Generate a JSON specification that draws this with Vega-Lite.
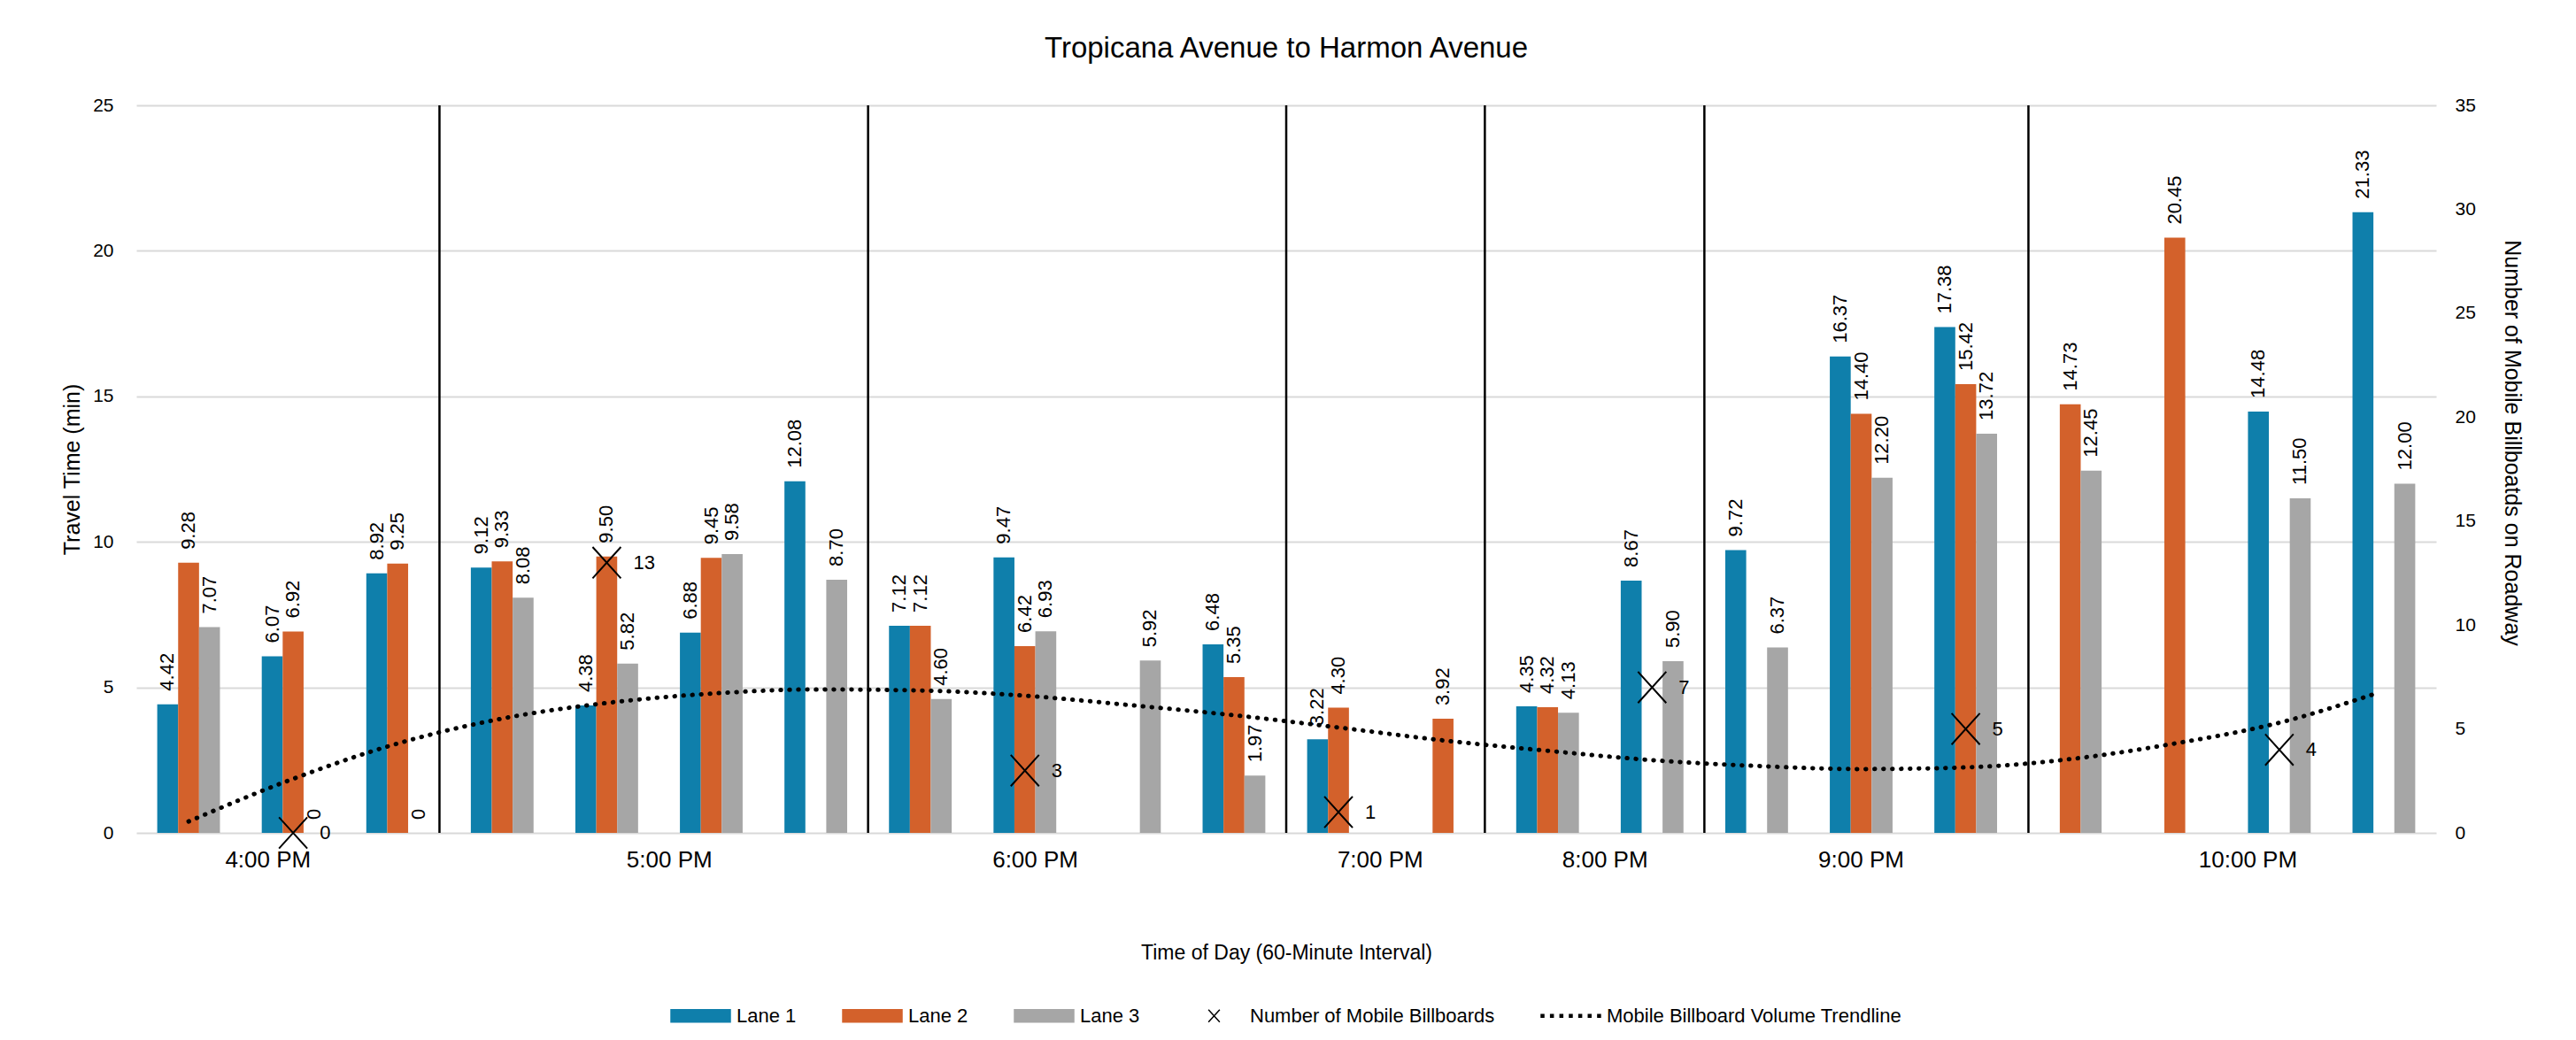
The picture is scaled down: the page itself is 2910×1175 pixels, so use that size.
{
  "$schema": "https://vega.github.io/schema/vega-lite/v6.json",
  "width": 2598,
  "height": 822,
  "autosize": {"type": "none"},
  "padding": {"left": 154, "top": 119, "right": 158, "bottom": 234},
  "background": "white",
  "title": {"text": "Tropicana Avenue to Harmon Avenue", "font": "Liberation Sans", "fontSize": 33, "fontWeight": "normal", "color": "#000000", "anchor": "middle", "frame": "group", "offset": 36},
  "config": {"view": {"stroke": null}, "font": "Liberation Sans", "legend": {"layout": {"bottom": {"anchor": "middle"}}}},
  "datasets": {
    "bars": [
      {"slot": 1, "series": "Lane 1", "time": 4.42}, {"slot": 1, "series": "Lane 2", "time": 9.28}, {"slot": 1, "series": "Lane 3", "time": 7.07},
      {"slot": 2, "series": "Lane 1", "time": 6.07}, {"slot": 2, "series": "Lane 2", "time": 6.92}, {"slot": 2, "series": "Lane 3", "time": 0},
      {"slot": 3, "series": "Lane 1", "time": 8.92}, {"slot": 3, "series": "Lane 2", "time": 9.25}, {"slot": 3, "series": "Lane 3", "time": 0},
      {"slot": 4, "series": "Lane 1", "time": 9.12}, {"slot": 4, "series": "Lane 2", "time": 9.33}, {"slot": 4, "series": "Lane 3", "time": 8.08},
      {"slot": 5, "series": "Lane 1", "time": 4.38}, {"slot": 5, "series": "Lane 2", "time": 9.50}, {"slot": 5, "series": "Lane 3", "time": 5.82},
      {"slot": 6, "series": "Lane 1", "time": 6.88}, {"slot": 6, "series": "Lane 2", "time": 9.45}, {"slot": 6, "series": "Lane 3", "time": 9.58},
      {"slot": 7, "series": "Lane 1", "time": 12.08}, {"slot": 7, "series": "Lane 3", "time": 8.70},
      {"slot": 8, "series": "Lane 1", "time": 7.12}, {"slot": 8, "series": "Lane 2", "time": 7.12}, {"slot": 8, "series": "Lane 3", "time": 4.60},
      {"slot": 9, "series": "Lane 1", "time": 9.47}, {"slot": 9, "series": "Lane 2", "time": 6.42}, {"slot": 9, "series": "Lane 3", "time": 6.93},
      {"slot": 10, "series": "Lane 3", "time": 5.92},
      {"slot": 11, "series": "Lane 1", "time": 6.48}, {"slot": 11, "series": "Lane 2", "time": 5.35}, {"slot": 11, "series": "Lane 3", "time": 1.97},
      {"slot": 12, "series": "Lane 1", "time": 3.22}, {"slot": 12, "series": "Lane 2", "time": 4.30},
      {"slot": 13, "series": "Lane 2", "time": 3.92},
      {"slot": 14, "series": "Lane 1", "time": 4.35}, {"slot": 14, "series": "Lane 2", "time": 4.32}, {"slot": 14, "series": "Lane 3", "time": 4.13},
      {"slot": 15, "series": "Lane 1", "time": 8.67}, {"slot": 15, "series": "Lane 3", "time": 5.90},
      {"slot": 16, "series": "Lane 1", "time": 9.72}, {"slot": 16, "series": "Lane 3", "time": 6.37},
      {"slot": 17, "series": "Lane 1", "time": 16.37}, {"slot": 17, "series": "Lane 2", "time": 14.40}, {"slot": 17, "series": "Lane 3", "time": 12.20},
      {"slot": 18, "series": "Lane 1", "time": 17.38}, {"slot": 18, "series": "Lane 2", "time": 15.42}, {"slot": 18, "series": "Lane 3", "time": 13.72},
      {"slot": 19, "series": "Lane 2", "time": 14.73}, {"slot": 19, "series": "Lane 3", "time": 12.45},
      {"slot": 20, "series": "Lane 2", "time": 20.45},
      {"slot": 21, "series": "Lane 1", "time": 14.48}, {"slot": 21, "series": "Lane 3", "time": 11.50},
      {"slot": 22, "series": "Lane 1", "time": 21.33}, {"slot": 22, "series": "Lane 3", "time": 12.00}
    ],
    "markers": [
      {"slot": 2, "series": "Number of Mobile Billboards", "count": 0},
      {"slot": 5, "series": "Number of Mobile Billboards", "count": 13},
      {"slot": 9, "series": "Number of Mobile Billboards", "count": 3},
      {"slot": 12, "series": "Number of Mobile Billboards", "count": 1},
      {"slot": 15, "series": "Number of Mobile Billboards", "count": 7},
      {"slot": 18, "series": "Number of Mobile Billboards", "count": 5},
      {"slot": 21, "series": "Number of Mobile Billboards", "count": 4}
    ],
    "trend": [
      {"slot": 1, "trend": 0.55}, {"slot": 2, "trend": 2.6}, {"slot": 3, "trend": 4.3}, {"slot": 4, "trend": 5.5},
      {"slot": 5, "trend": 6.25}, {"slot": 6, "trend": 6.7}, {"slot": 7, "trend": 6.9}, {"slot": 8, "trend": 6.85},
      {"slot": 9, "trend": 6.6}, {"slot": 10, "trend": 6.15}, {"slot": 11, "trend": 5.66}, {"slot": 12, "trend": 5.07},
      {"slot": 13, "trend": 4.45}, {"slot": 14, "trend": 3.95}, {"slot": 15, "trend": 3.5}, {"slot": 16, "trend": 3.22},
      {"slot": 17, "trend": 3.07}, {"slot": 18, "trend": 3.15}, {"slot": 19, "trend": 3.55}, {"slot": 20, "trend": 4.3},
      {"slot": 21, "trend": 5.3}, {"slot": 21.95, "trend": 6.75}
    ],
    "hours": [
      {"hour": "4:00 PM", "pos": 1.76}, {"hour": "5:00 PM", "pos": 5.6}, {"hour": "6:00 PM", "pos": 9.1},
      {"hour": "7:00 PM", "pos": 12.4}, {"hour": "8:00 PM", "pos": 14.55}, {"hour": "9:00 PM", "pos": 17.0},
      {"hour": "10:00 PM", "pos": 20.7}
    ],
    "seps": [
      {"boundary": 3.4}, {"boundary": 7.5}, {"boundary": 11.5}, {"boundary": 13.4}, {"boundary": 15.5}, {"boundary": 18.6}
    ]
  },
  "layer": [
    {
      "data": {"name": "bars"},
      "layer": [
        {
          "mark": {"type": "bar"},
          "encoding": {
            "x": {"field": "slot", "type": "ordinal", "scale": {"domain": [1,2,3,4,5,6,7,8,9,10,11,12,13,14,15,16,17,18,19,20,21,22], "paddingInner": 0, "paddingOuter": 0}, "axis": null},
            "xOffset": {"field": "series", "type": "nominal", "scale": {"domain": ["Lane 1", "Lane 2", "Lane 3"], "paddingInner": 0, "paddingOuter": 1.065}},
            "y": {"field": "time", "type": "quantitative", "title": "Travel Time (min)", "scale": {"domain": [0, 25], "nice": false},
              "axis": {"orient": "left", "values": [0, 5, 10, 15, 20, 25], "grid": true, "gridColor": "#d9d9d9", "gridWidth": 2, "domain": false, "ticks": false, "labelPadding": 26, "labelFont": "Liberation Sans", "labelFontSize": 21, "labelColor": "#000000", "titleFont": "Liberation Sans", "titleFontSize": 25, "titleFontWeight": "normal", "titleColor": "#000000", "titleX": -73, "titleBaseline": "middle"}},
            "color": {"field": "series", "type": "nominal",
              "scale": {"domain": ["Lane 1", "Lane 2", "Lane 3", "Number of Mobile Billboards", "Mobile Billboard Volume Trendline"], "range": ["#0f7fab", "#d3612b", "#a6a6a6", "#000000", "#000000"]},
              "legend": {"title": null, "orient": "bottom", "direction": "horizontal", "columns": 5, "offset": 25, "padding": 0, "symbolSize": 4489, "labelOffset": 6, "columnPadding": 49, "labelFont": "Liberation Sans", "labelFontSize": 22, "labelColor": "#000000", "labelLimit": 0,
                "encode": {"symbols": {"update": {"fill": {"scale": "color", "field": "value"}, "stroke": {"scale": "color", "field": "value"}, "strokeWidth": {"value": 1.5}, "opacity": {"value": 1}, "size": {"value": 4489}, "shape": {"scale": "shape", "field": "value"}}}}}}
          }
        },
        {
          "mark": {"type": "text", "angle": 270, "align": "left", "baseline": "middle", "dx": 15, "font": "Liberation Sans", "fontSize": 22, "color": "#000000"},
          "encoding": {
            "x": {"field": "slot", "type": "ordinal"},
            "xOffset": {"field": "series", "type": "nominal"},
            "y": {"field": "time", "type": "quantitative", "title": "Travel Time (min)"},
            "text": {"condition": {"test": "datum.time === 0", "value": "0"}, "field": "time", "type": "quantitative", "format": ".2f"}
          }
        }
      ]
    },
    {
      "data": {"name": "seps"},
      "mark": {"type": "rule", "color": "#000000", "strokeWidth": 2.5},
      "encoding": {
        "x": {"field": "boundary", "type": "quantitative", "scale": {"domain": [0.5, 22.5], "nice": false, "zero": false}, "axis": null}
      }
    },
    {
      "layer": [
        {
          "data": {"name": "trend"},
          "mark": {"type": "line", "color": "#000000", "strokeWidth": 5, "strokeDash": [0.5, 9.5], "strokeCap": "round", "interpolate": "monotone"},
          "encoding": {
            "x": {"field": "slot", "type": "quantitative", "title": "Time of Day (60-Minute Interval)", "scale": {"domain": [0.5, 22.5], "nice": false, "zero": false},
              "axis": {"orient": "bottom", "labels": false, "ticks": false, "domain": false, "grid": false, "titlePadding": 124, "titleFont": "Liberation Sans", "titleFontSize": 23, "titleFontWeight": "normal", "titleColor": "#000000"}},
            "y": {"field": "trend", "type": "quantitative", "title": "Number of Mobile Billboatds on Roadway", "scale": {"domain": [0, 35], "nice": false},
              "axis": {"orient": "right", "values": [0, 5, 10, 15, 20, 25, 30, 35], "grid": false, "domain": false, "ticks": false, "labelPadding": 21, "labelFont": "Liberation Sans", "labelFontSize": 21, "labelColor": "#000000", "titleFont": "Liberation Sans", "titleFontSize": 25, "titleFontWeight": "normal", "titleColor": "#000000", "titleX": 85, "titleY": 381, "titleBaseline": "middle"}}
          }
        },
        {
          "data": {"name": "markers"},
          "mark": {"type": "point", "filled": false, "strokeWidth": 2, "size": 28300, "opacity": 1},
          "encoding": {
            "x": {"field": "slot", "type": "quantitative", "title": "Time of Day (60-Minute Interval)"},
            "y": {"field": "count", "type": "quantitative", "title": "Number of Mobile Billboatds on Roadway"},
            "color": {"field": "series", "type": "nominal",
              "scale": {"domain": ["Lane 1", "Lane 2", "Lane 3", "Number of Mobile Billboards", "Mobile Billboard Volume Trendline"], "range": ["#0f7fab", "#d3612b", "#a6a6a6", "#000000", "#000000"]},
              "legend": {"title": null, "orient": "bottom", "direction": "horizontal", "columns": 5, "offset": 25, "padding": 0, "symbolSize": 4489, "labelOffset": 6, "columnPadding": 49, "labelFont": "Liberation Sans", "labelFontSize": 22, "labelColor": "#000000", "labelLimit": 0,
                "encode": {"symbols": {"update": {"fill": {"scale": "color", "field": "value"}, "stroke": {"scale": "color", "field": "value"}, "strokeWidth": {"value": 1.5}, "opacity": {"value": 1}, "size": {"value": 4489}, "shape": {"scale": "shape", "field": "value"}}}}}},
            "shape": {"field": "series", "type": "nominal",
              "scale": {"domain": ["Lane 1", "Lane 2", "Lane 3", "Number of Mobile Billboards", "Mobile Billboard Volume Trendline"],
                "range": ["M-1,-0.21H1V0.21H-1Z", "M-1,-0.21H1V0.21H-1Z", "M-1,-0.21H1V0.21H-1Z", "M-0.19,-0.21L0.19,0.21M0.19,-0.21L-0.19,0.21", "M-1,-0.045h0.09v0.09h-0.09Z M-0.682,-0.045h0.09v0.09h-0.09Z M-0.364,-0.045h0.09v0.09h-0.09Z M-0.046,-0.045h0.09v0.09h-0.09Z M0.272,-0.045h0.09v0.09h-0.09Z M0.59,-0.045h0.09v0.09h-0.09Z M0.908,-0.045h0.09v0.09h-0.09Z"]},
              "legend": {"title": null, "orient": "bottom", "direction": "horizontal", "columns": 5, "offset": 25, "padding": 0, "symbolSize": 4489, "labelOffset": 6, "columnPadding": 49, "labelFont": "Liberation Sans", "labelFontSize": 22, "labelColor": "#000000", "labelLimit": 0,
                "encode": {"symbols": {"update": {"fill": {"scale": "color", "field": "value"}, "stroke": {"scale": "color", "field": "value"}, "strokeWidth": {"value": 1.5}, "opacity": {"value": 1}, "size": {"value": 4489}, "shape": {"scale": "shape", "field": "value"}}}}}}
          }
        },
        {
          "data": {"name": "markers"},
          "mark": {"type": "text", "align": "left", "baseline": "middle", "dx": 30, "font": "Liberation Sans", "fontSize": 22, "color": "#000000"},
          "encoding": {
            "x": {"field": "slot", "type": "quantitative", "title": "Time of Day (60-Minute Interval)"},
            "y": {"field": "count", "type": "quantitative", "title": "Number of Mobile Billboatds on Roadway"},
            "text": {"field": "count", "type": "quantitative"}
          }
        }
      ]
    },
    {
      "data": {"name": "hours"},
      "mark": {"type": "text", "align": "center", "baseline": "middle", "dy": 31, "font": "Liberation Sans", "fontSize": 26, "color": "#000000"},
      "encoding": {
        "x": {"field": "pos", "type": "quantitative", "scale": {"domain": [0.5, 22.5], "nice": false, "zero": false}, "axis": null},
        "y": {"datum": 0, "type": "quantitative", "scale": {"domain": [0, 25]}, "axis": null},
        "text": {"field": "hour", "type": "nominal"}
      }
    }
  ],
  "resolve": {"scale": {"x": "independent", "y": "independent"}}
}
